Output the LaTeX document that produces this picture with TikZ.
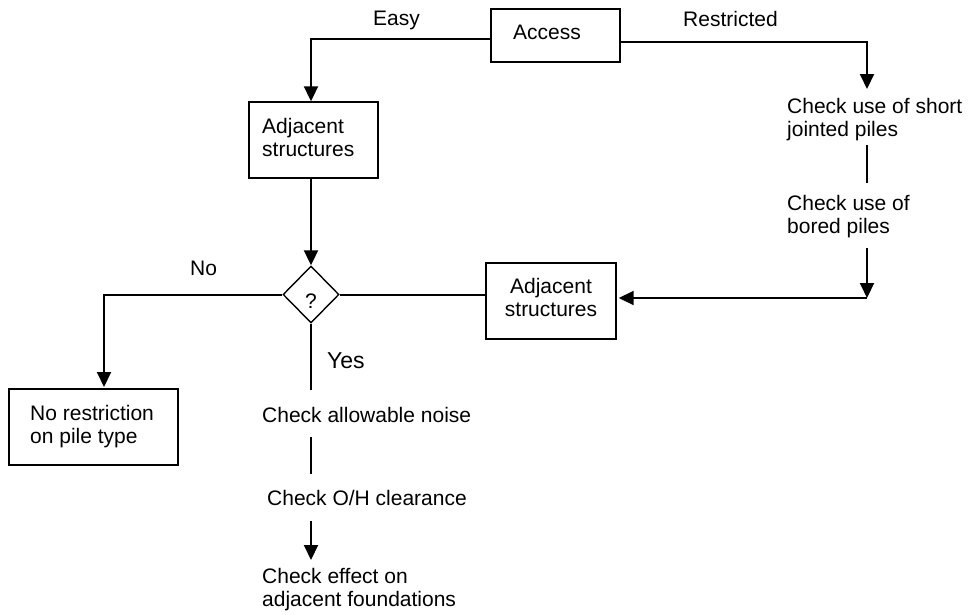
\documentclass[tikz,border=0pt]{standalone}
\usepackage{fontspec}
\setmainfont{Liberation Sans}
\usetikzlibrary{arrows.meta,shapes.geometric}
\newcommand{\mlines}[2][l]{\begin{tabular}[t]{@{}#1@{}}#2\end{tabular}}
\begin{document}
\begin{tikzpicture}[x=1pt,y=-1pt,
  font=\fontsize{21}{23.5}\selectfont,
  boxnode/.style={draw,line width=1.4pt,inner sep=0pt,rectangle},
  txt/.style={inner sep=0pt,anchor=base west},
  conn/.style={line width=2pt},
  arr/.style={conn,-{Triangle[length=15pt,width=14pt]}}]
\useasboundingbox (0,0) rectangle (973,614);

% boxes
\node[boxnode,minimum width=129,minimum height=53] (access) at (555.5,35.5) {};
\node[boxnode,minimum width=129,minimum height=76] (adj1) at (313.5,140) {};
\node[boxnode,minimum width=130,minimum height=76] (adj2) at (551,301) {};
\node[boxnode,minimum width=169,minimum height=76] (norestr) at (93.5,427) {};
\node[draw,line width=1.4pt,diamond,inner sep=0pt,minimum width=56,minimum height=57] (dec) at (311,294.5) {};

% texts
\node[txt] (accesst) at (513,39) {Access};
\node[txt] (easy) at (373,25) {Easy};
\node[txt] (restr) at (683,26) {Restricted};
\node[txt] (adj1t) at (262,133) {\mlines{Adjacent\\structures}};
\node[inner sep=0pt,anchor=base] (adj2t) at (551,293) {\mlines[c]{Adjacent\\structures}};
\node[txt] (norestrt) at (30,420) {\mlines{No restriction\\on pile type}};
\node[txt] (chk1) at (787,113) {\mlines{Check use of short\\jointed piles}};
\node[txt] (chk2) at (787,210) {\mlines{Check use of\\bored piles}};
\node[inner sep=0pt,anchor=base] (q) at (311,308) {?};
\node[txt] (no) at (190,275) {No};
\node[txt,font=\fontsize{23}{26}\selectfont] (yes) at (327,368) {Yes};
\node[txt] (noise) at (262,422) {Check allowable noise};
\node[txt] (oh) at (267,505) {Check O/H clearance};
\node[txt] (effect) at (262,583) {\mlines{Check effect on\\adjacent foundations}};

% free ends
\coordinate (rtop) at (867,89);
\coordinate (ra) at (867,145);
\coordinate (rb) at (867,183);
\coordinate (rc) at (867,248);
\coordinate (rd) at (867,298);
\coordinate (lcol) at (104,387);
\coordinate (ma) at (311,390);
\coordinate (mb) at (311,437);
\coordinate (mc) at (311,474);
\coordinate (md) at (311,521);
\coordinate (me) at (311,560);

% connectors
\draw[arr] ([yshift=-3.5pt]access.west) -| ([xshift=-2.5pt]adj1.north);
\draw[arr] ([yshift=-6.5pt]access.east) -| (rtop);
\draw[conn] (ra) -- (rb);
\draw[arr] (rc) -- (rd);
\draw[arr] (rd) -- ([xshift=2pt]adj2.east |- rd);
\draw[arr] (adj1.south -| dec.north) -- (dec.north);
\draw[conn] (dec.east) -- (adj2.west |- dec.east);
\draw[arr] (dec.west) -| (lcol);
\draw[conn] (dec.south) -- (ma);
\draw[conn] (mb) -- (mc);
\draw[arr] (md) -- (me);
\end{tikzpicture}
\end{document}
